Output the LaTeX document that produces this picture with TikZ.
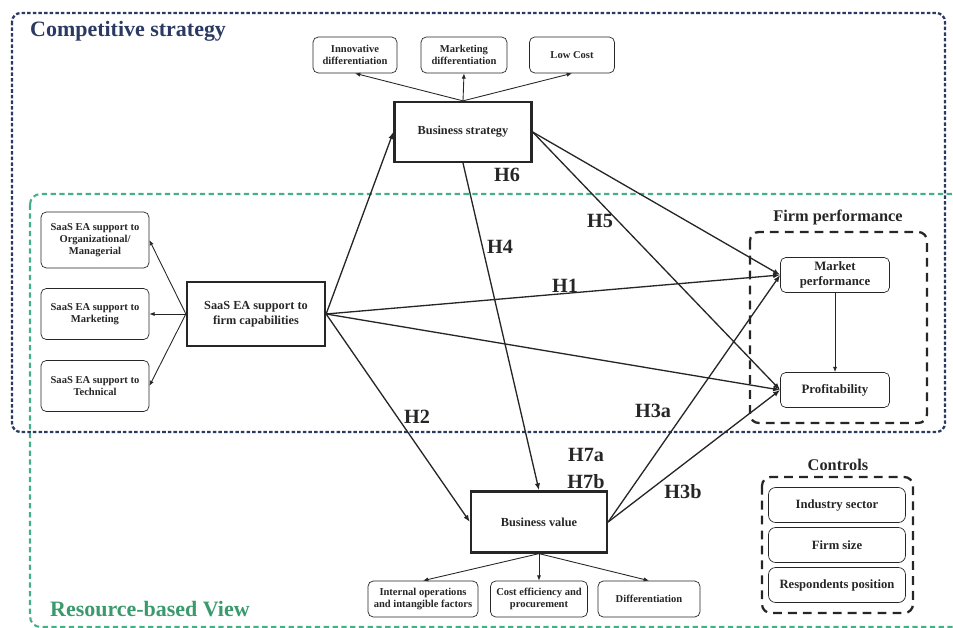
\documentclass[tikz,border=0pt]{standalone}
\usepackage{fontspec}
\setmainfont{Liberation Serif}
\usetikzlibrary{arrows.meta}
\definecolor{navyline}{HTML}{2A3A62}
\definecolor{greenline}{HTML}{45B088}
\definecolor{greentext}{HTML}{3A9A6C}
\definecolor{inkgray}{HTML}{262626}

\begin{document}
\begin{tikzpicture}[x=0.02cm, y=-0.02cm, font=\bfseries,
	subbox/.style={draw=inkgray, rounded corners=3pt, align=center, inner sep=1pt, text=inkgray, font=\fontsize{6}{7}\selectfont\bfseries},
	mainbox/.style={draw=inkgray, line width=1.3pt, align=center, inner sep=1pt, text=inkgray, font=\fontsize{7}{8.5}\selectfont\bfseries},
	perfbox/.style={draw=inkgray, rounded corners=3pt, align=center, inner sep=1pt, text=inkgray, minimum width=2.18cm, minimum height=0.7cm, font=\fontsize{7.3}{8.5}\selectfont\bfseries},
	ctrlbox/.style={draw=inkgray, rounded corners=4pt, align=center, inner sep=1pt, text=inkgray, minimum width=2.74cm, minimum height=0.7cm, font=\fontsize{7.2}{8.5}\selectfont\bfseries},
	link/.style={-{Latex[length=4pt,width=3pt]}, draw=inkgray, line width=0.75pt},
	sublink/.style={-{Latex[length=3pt,width=2.4pt]}, draw=inkgray, line width=0.5pt},
	hyp/.style={text=inkgray, font=\fontsize{11.5}{12}\selectfont\bfseries},
	grouplabel/.style={text=inkgray, font=\fontsize{9.3}{11}\selectfont\bfseries}]
	\useasboundingbox (0,0) rectangle (953,628);
	
	% the two theory frames
	\draw [navyline, line width=1.3pt, dash pattern=on 2pt off 1.2pt, rounded corners=5pt] (12,13) rectangle (945,432); %competitive strategy
	\draw [greenline, line width=1.2pt, dash pattern=on 3pt off 2pt, rounded corners=6pt] (30,194) rectangle (975,627); %resource-based view
	\node [navyline, font=\fontsize{12.5}{14}\selectfont\bfseries, anchor=west] (cstitle) at (24,31) {Competitive strategy};
	\node [greentext, font=\fontsize{12.5}{14}\selectfont\bfseries, anchor=west] (rbvtitle) at (44,609) {Resource-based View};
	
	% business strategy and its dimensions
	\node [mainbox, minimum width=2.74cm, minimum height=1.2cm] (strategy) at (463,132) {Business strategy};
	\node [subbox, minimum width=1.68cm, minimum height=0.72cm] (innov) at (355,55) {Innovative\\differentiation};
	\node [subbox, minimum width=1.72cm, minimum height=0.72cm] (mktdiff) at (464,55) {Marketing\\differentiation};
	\node [subbox, minimum width=1.7cm, minimum height=0.72cm] (lowcost) at (572,55) {Low Cost};
	\draw [sublink] (strategy.north) -- (innov.south);
	\draw [sublink] (strategy.north) -- (mktdiff.south);
	\draw [sublink] (strategy.north) -- (lowcost.south);
	
	% saas ea support and its dimensions
	\node [mainbox, minimum width=2.76cm, minimum height=1.28cm] (saas) at (256,314) {SaaS EA support to\\firm capabilities};
	\node [subbox, minimum width=2.16cm, minimum height=1.12cm] (orgsup) at (95,240) {SaaS EA support to\\Organizational/\\Managerial};
	\node [subbox, minimum width=2.16cm, minimum height=1.02cm] (mktsup) at (95,314) {SaaS EA support to\\Marketing};
	\node [subbox, minimum width=2.16cm, minimum height=1.02cm] (techsup) at (95,386) {SaaS EA support to\\Technical};
	\draw [sublink] (saas.west) -- (orgsup.east);
	\draw [sublink] (saas.west) -- (mktsup.east);
	\draw [sublink] (saas.west) -- (techsup.east);
	
	% firm performance
	\draw [inkgray, line width=1.3pt, dash pattern=on 5pt off 3.5pt, rounded corners=5pt] (750,232) rectangle (927,423);
	\node [grouplabel] (fptitle) at (838,217) {Firm performance};
	\node [perfbox] (market) at (835,275) {Market\\performance};
	\node [perfbox] (profit) at (835,390) {Profitability};
	\draw [sublink] (market.south) -- (profit.north);
	
	% business value and its dimensions
	\node [mainbox, minimum width=2.72cm, minimum height=1.22cm] (value) at (539,522) {Business value};
	\node [subbox, minimum width=2.2cm, minimum height=0.72cm] (internal) at (423,599) {Internal operations\\and intangible factors};
	\node [subbox, minimum width=1.94cm, minimum height=0.72cm] (costeff) at (539,599) {Cost efficiency and\\procurement};
	\node [subbox, minimum width=2.04cm, minimum height=0.72cm] (diff) at (649,599) {Differentiation};
	\draw [sublink] (value.south) -- (internal.north);
	\draw [sublink] (value.south) -- (costeff.north);
	\draw [sublink] (value.south) -- (diff.north);
	
	% controls
	\node [grouplabel] (ctrltitle) at (838,465) {Controls};
	\draw [inkgray, line width=1.3pt, dash pattern=on 5pt off 3.5pt, rounded corners=5pt] (762,477) rectangle (913,613);
	\node [ctrlbox] (industry) at (837,505) {Industry sector};
	\node [ctrlbox] (firmsize) at (837,545) {Firm size};
	\node [ctrlbox] (position) at (837,585) {Respondents position};
	
	% hypothesised paths
	\draw [link] (saas.east) -- (strategy.west);
	\draw [link] (saas.east) -- (market.west);
	\draw [link] (saas.east) -- (profit.west);
	\draw [link] (saas.east) -- (value.west);
	\draw [link] (strategy.south) -- (value.north);
	\draw [link] (strategy.east) -- (market.west);
	\draw [link] (strategy.east) -- (profit.west);
	\draw [link] (value.east) -- (market.west);
	\draw [link] (value.east) -- (profit.west);
	
	% hypothesis labels
	\node [hyp] (h1) at (565,286) {H1};
	\node [hyp] (h2) at (417,417) {H2};
	\node [hyp] (h3a) at (653,411) {H3a};
	\node [hyp] (h3b) at (683,492) {H3b};
	\node [hyp] (h4) at (500,247) {H4};
	\node [hyp] (h5) at (600,221) {H5};
	\node [hyp] (h6) at (507,175) {H6};
	\node [hyp] (h7a) at (586,455) {H7a};
	\node [hyp] (h7b) at (586,482) {H7b};
\end{tikzpicture}
\end{document}
